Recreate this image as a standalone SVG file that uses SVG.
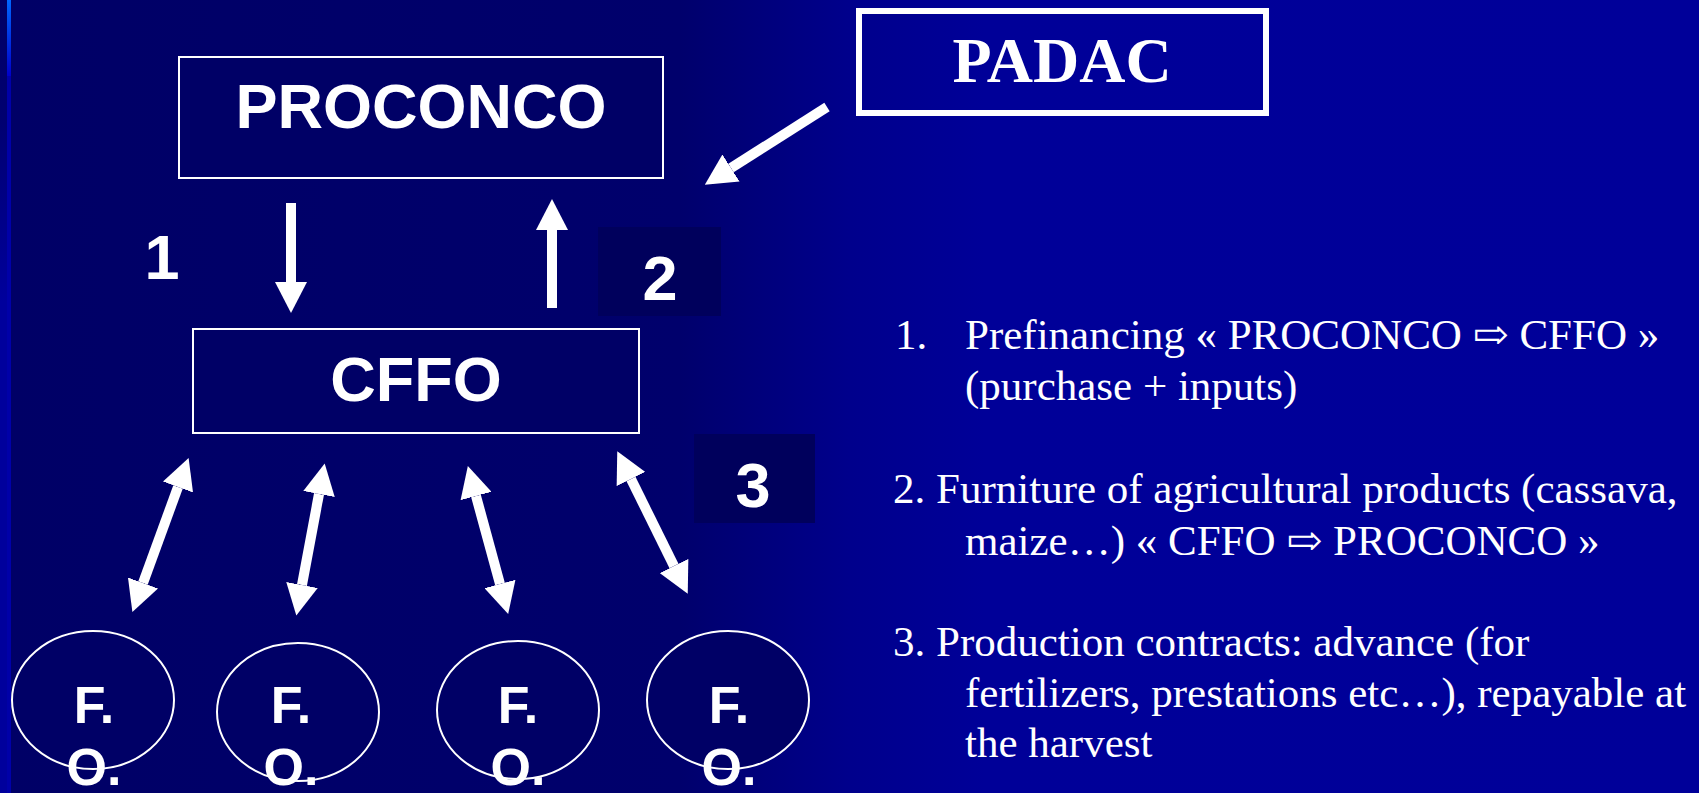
<svg xmlns="http://www.w3.org/2000/svg" width="1699" height="793" viewBox="0 0 1699 793">
  <defs>
    <linearGradient id="bg" x1="0" y1="0" x2="1" y2="0">
      <stop offset="0" stop-color="#000066"/>
      <stop offset="0.4" stop-color="#00006c"/>
      <stop offset="0.5" stop-color="#00008c"/>
      <stop offset="0.58" stop-color="#000098"/>
      <stop offset="1" stop-color="#000099"/>
    </linearGradient>
    <linearGradient id="edge" x1="0" y1="0" x2="0" y2="1">
      <stop offset="0" stop-color="#000066"/>
      <stop offset="0.15" stop-color="#000070"/>
      <stop offset="0.38" stop-color="#00009c"/>
      <stop offset="1" stop-color="#00009c"/>
    </linearGradient>
    <linearGradient id="glow" x1="0" y1="0" x2="0" y2="1">
      <stop offset="0" stop-color="#0066ff"/>
      <stop offset="1" stop-color="#0000c8"/>
    </linearGradient>
    <marker id="head" markerUnits="userSpaceOnUse" viewBox="0 -16 31 32" refX="0" refY="0" markerWidth="31" markerHeight="32" orient="auto-start-reverse">
      <path d="M0,-16 L31,0 L0,16 z" fill="#ffffff"/>
    </marker>
    <style>
      .box { fill: #000066; stroke: #ffffff; stroke-width: 2; }
      .tag { fill: #00005c; }
      .fo { fill: #000066; stroke: #ffffff; stroke-width: 2; }
      .sans { font-family: "Liberation Sans", Arial, sans-serif; font-weight: bold; fill: #ffffff; }
      .serif { font-family: "Liberation Serif", "Times New Roman", "DejaVu Serif", serif; fill: #ffffff; }
      .link { stroke: #ffffff; stroke-width: 10; fill: none; }
      .one { marker-end: url(#head); }
      .two { marker-start: url(#head); marker-end: url(#head); }
    </style>
  </defs>

  <!-- background -->
  <rect x="0" y="0" width="1699" height="793" fill="url(#bg)"/>
  <rect x="0" y="0" width="11" height="793" fill="url(#edge)"/>
  <rect x="7" y="0" width="4" height="76" fill="url(#glow)"/>
  <rect x="7" y="76" width="4" height="717" fill="#0000a8"/>

  <!-- number tags -->
  <rect class="tag" x="598" y="227" width="123" height="89"/>
  <rect class="tag" x="694" y="434" width="121" height="89"/>

  <g id="proconco">
    <rect class="box" x="179" y="57" width="484" height="121"/>
    <text class="sans" x="421" y="128" font-size="63" text-anchor="middle">PROCONCO</text>
  </g>

  <g id="padac">
    <rect x="859" y="11" width="407" height="102" fill="none" stroke="#ffffff" stroke-width="6"/>
    <text class="serif" x="1062" y="82" font-size="64" font-weight="bold" text-anchor="middle">PADAC</text>
  </g>

  <g id="cffo">
    <rect class="box" x="193" y="329" width="446" height="104"/>
    <text class="sans" x="416" y="401" font-size="63" text-anchor="middle">CFFO</text>
  </g>

  <g id="fo1">
    <ellipse class="fo" cx="93" cy="700" rx="81" ry="69"/>
    <text class="sans" x="94" y="723" font-size="52" text-anchor="middle">F.</text>
    <text class="sans" x="94" y="785" font-size="52" text-anchor="middle">O.</text>
  </g>
  <g id="fo2">
    <ellipse class="fo" cx="298" cy="712" rx="81" ry="69"/>
    <text class="sans" x="291" y="723" font-size="52" text-anchor="middle">F.</text>
    <text class="sans" x="291" y="785" font-size="52" text-anchor="middle">O.</text>
  </g>
  <g id="fo3">
    <ellipse class="fo" cx="518" cy="710" rx="81" ry="69"/>
    <text class="sans" x="518" y="723" font-size="52" text-anchor="middle">F.</text>
    <text class="sans" x="518" y="785" font-size="52" text-anchor="middle">O.</text>
  </g>
  <g id="fo4">
    <ellipse class="fo" cx="728" cy="700" rx="81" ry="69"/>
    <text class="sans" x="729" y="723" font-size="52" text-anchor="middle">F.</text>
    <text class="sans" x="729" y="785" font-size="52" text-anchor="middle">O.</text>
  </g>

  <!-- flow numbers -->
  <g id="labels">
    <text class="sans" x="162" y="279" font-size="63" text-anchor="middle">1</text>
    <text class="sans" x="660" y="300" font-size="63" text-anchor="middle">2</text>
    <text class="sans" x="753" y="507" font-size="63" text-anchor="middle">3</text>
  </g>

  <g id="connectors">
    <line class="link one" x1="291" y1="203" x2="291" y2="282"/>
    <line class="link one" x1="552" y1="308" x2="552" y2="230"/>
    <line class="link one" x1="827" y1="107" x2="731" y2="168"/>
    <line class="link two" x1="178" y1="487" x2="143" y2="583"/>
    <line class="link two" x1="319" y1="494" x2="302" y2="585"/>
    <line class="link two" x1="476" y1="496" x2="500" y2="584"/>
    <line class="link two" x1="631" y1="479" x2="674" y2="566"/>
  </g>

  <!-- legend -->
  <g id="legend" class="serif" font-size="43">
    <text x="895" y="349">1.</text>
    <text x="965" y="349">Prefinancing « PROCONCO ⇨ CFFO »</text>
    <text x="965" y="400">(purchase + inputs)</text>
    <text x="893" y="503">2. Furniture of agricultural products (cassava,</text>
    <text x="965" y="555">maize…) « CFFO ⇨ PROCONCO »</text>
    <text x="893" y="656">3. Production contracts: advance (for</text>
    <text x="965" y="707">fertilizers, prestations etc…), repayable at</text>
    <text x="965" y="757">the harvest</text>
  </g>
</svg>
